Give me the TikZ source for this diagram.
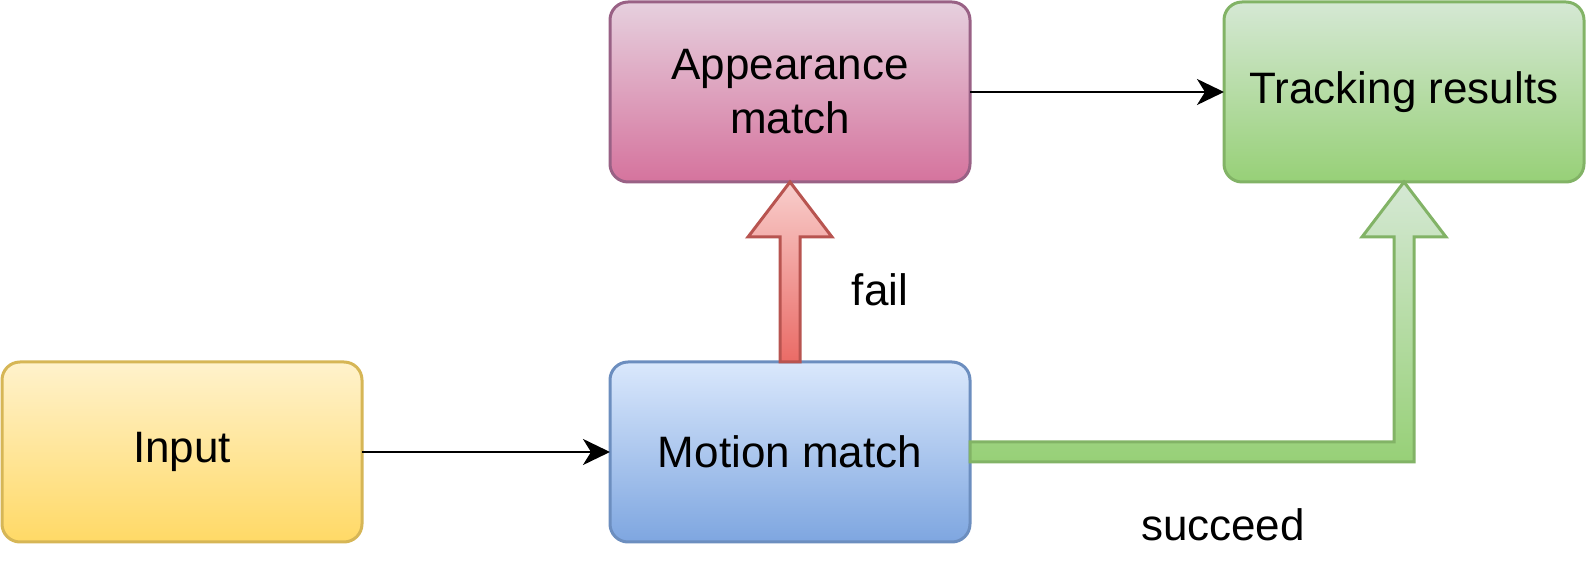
\documentclass[tikz,border=0pt]{standalone}
\usepackage{fontspec}
\setmainfont{Liberation Sans}
\usepackage{tikz}
\usetikzlibrary{arrows.meta,calc}

\definecolor{ylwtop}{HTML}{FFF2CC}
\definecolor{ylwbot}{HTML}{FFD966}
\definecolor{ylwline}{HTML}{D6B656}
\definecolor{blutop}{HTML}{DAE8FC}
\definecolor{blubot}{HTML}{7EA6E0}
\definecolor{bluline}{HTML}{6C8EBF}
\definecolor{pnktop}{HTML}{E6D0DE}
\definecolor{pnkbot}{HTML}{D5739D}
\definecolor{pnkline}{HTML}{996185}
\definecolor{grntop}{HTML}{D5E8D4}
\definecolor{grnbot}{HTML}{97D077}
\definecolor{grnline}{HTML}{82B366}
\definecolor{redtop}{HTML}{F8CECC}
\definecolor{redbot}{HTML}{EA6B66}
\definecolor{redline}{HTML}{B85450}

\begin{document}
\begin{tikzpicture}[x=0.5pt, y=-0.5pt,
  box/.style={draw, rounded corners=9pt, line width=1.5pt, outer sep=0pt,
    minimum width=180pt, minimum height=90pt, align=center,
    font=\fontsize{22}{27}\selectfont},
  flow/.style={-{Stealth[length=13.5pt, width=13pt, inset=4pt]}, line width=1.3pt},
  fatarrow/.style={line width=1.5pt, line join=miter},
  lbl/.style={font=\fontsize{22}{27}\selectfont}]

\useasboundingbox (0,0) rectangle (1587,576);

\node[box, top color=ylwtop, bottom color=ylwbot, draw=ylwline] at (182,452) (input) {Input};
\node[box, top color=blutop, bottom color=blubot, draw=bluline] at (790,452) (motion) {Motion match};
\node[box, top color=pnktop, bottom color=pnkbot, draw=pnkline] at (790,92) (appear) {Appearance\\match};
\node[box, top color=grntop, bottom color=grnbot, draw=grnline] at (1404,92) (track) {Tracking results};

\draw[flow] (input) -- (motion);
\draw[flow] (appear) -- (track);

% fail: block arrow up
\path[fatarrow, draw=redline, top color=redtop, bottom color=redbot]
  let \p1=(appear.south), \p2=(motion.north) in
  (\x2-5pt,\y2) -- (\x1-5pt,\y1-27.5pt) -- (\x1-21pt,\y1-27.5pt) -- (\p1)
  -- (\x1+21pt,\y1-27.5pt) -- (\x1+5pt,\y1-27.5pt) -- (\x2+5pt,\y2) -- cycle;
\node[lbl] at (880,290) (fail) {fail};

% succeed: block arrow right then up
\path[fatarrow, draw=grnline, top color=grntop, bottom color=grnbot]
  let \p1=(track.south), \p2=(motion.east) in
  (\x2,\y2+5pt) -- (\x1-5pt,\y2+5pt) -- (\x1-5pt,\y1-27.5pt) -- (\x1-21pt,\y1-27.5pt) -- (\p1)
  -- (\x1+21pt,\y1-27.5pt) -- (\x1+5pt,\y1-27.5pt) -- (\x1+5pt,\y2-5pt) -- (\x2,\y2-5pt) -- cycle;
\node[lbl] at (1223,525) (succ) {succeed};

\end{tikzpicture}
\end{document}
